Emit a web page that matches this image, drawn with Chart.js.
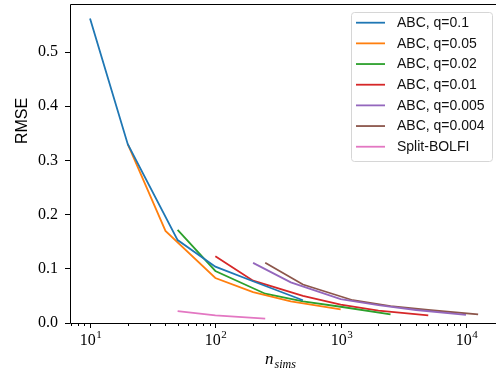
<!DOCTYPE html>
<html>
<head>
<meta charset="utf-8">
<script src="https://cdn.jsdelivr.net/npm/chart.js@4.4.0/dist/chart.umd.min.js"></script>
<style>
  html, body { margin: 0; padding: 0; background: #fff; }
</style>
</head>
<body>
<canvas id="chart" width="496" height="375"></canvas>
<script>
'use strict';

// n_sims and RMSE for each run
const nSimsQ01 = [10, 20, 50, 100, 200, 500];
const rmseQ01 = [0.562, 0.33, 0.153, 0.104, 0.077, 0.042];

const nSimsQ005 = [20, 40, 100, 200, 400, 1000];
const rmseQ005 = [0.33, 0.170, 0.083, 0.057, 0.040, 0.025];

const nSimsQ002 = [50, 100, 250, 500, 1000, 2500];
const rmseQ002 = [0.172, 0.096, 0.054, 0.040, 0.030, 0.016];

const nSimsQ001 = [100, 200, 500, 1000, 2000, 5000];
const rmseQ001 = [0.123, 0.078, 0.050, 0.034, 0.023, 0.014];

const nSimsQ0005 = [200, 400, 1000, 2000, 4000, 10000];
const rmseQ0005 = [0.111, 0.075, 0.044, 0.033, 0.024, 0.015];

const nSimsQ0004 = [250, 500, 1250, 2500, 5000, 12500];
const rmseQ0004 = [0.111, 0.071, 0.042, 0.031, 0.024, 0.016];

const nSimsBolfi = [50, 100, 250];
const rmseBolfi = [0.022, 0.014, 0.008];

const seriesLabels = ['ABC, q=0.1', 'ABC, q=0.05', 'ABC, q=0.02', 'ABC, q=0.01',
  'ABC, q=0.005', 'ABC, q=0.004', 'Split-BOLFI'];
const seriesX = [nSimsQ01, nSimsQ005, nSimsQ002, nSimsQ001, nSimsQ0005, nSimsQ0004, nSimsBolfi];
const seriesY = [rmseQ01, rmseQ005, rmseQ002, rmseQ001, rmseQ0005, rmseQ0004, rmseBolfi];
const yTicks = [0, 0.1, 0.2, 0.3, 0.4, 0.5];

const colors = ['#1f77b4', '#ff7f0e', '#2ca02c', '#d62728', '#9467bd', '#8c564b', '#e377c2'];
const serif = '"Liberation Serif", "DejaVu Serif", serif';
const sans = '"Liberation Sans", Arial, sans-serif';

function toPoints(xs, ys) {
  let pts = [];
  for (let i = 0; i < xs.length; i++) {
    pts.push({x: xs[i], y: ys[i]});
  }
  return pts;
}

let datasets = [];
for (let i = 0; i < seriesLabels.length; i++) {
  datasets.push({
    label: seriesLabels[i],
    data: toPoints(seriesX[i], seriesY[i]),
    borderColor: colors[i],
    backgroundColor: colors[i],
    borderWidth: 1.8,
    pointRadius: 0,
    showLine: true,
    tension: 0
  });
}

// frame, log ticks, axis titles and the boxed legend, matplotlib style
const decorations = {
  id: 'decorations',
  afterDraw(chart) {
    const ctx = chart.ctx;
    const area = chart.chartArea;
    const xScale = chart.scales.x;
    ctx.save();

    ctx.strokeStyle = '#000';
    ctx.lineWidth = 1;
    ctx.beginPath();
    ctx.moveTo(area.right, area.top + 0.5);
    ctx.lineTo(area.left + 0.5, area.top + 0.5);
    ctx.lineTo(area.left + 0.5, area.bottom + 0.5);
    ctx.lineTo(area.right, area.bottom + 0.5);
    ctx.stroke();

    // log ticks on x
    ctx.fillStyle = '#000';
    for (let e = 0; e <= 4; e++) {
      for (let k = 1; k <= 9; k++) {
        const v = k * Math.pow(10, e);
        if (v < xScale.min || v > xScale.max) continue;
        const px = Math.round(xScale.getPixelForValue(v)) + 0.5;
        ctx.beginPath();
        ctx.moveTo(px, area.bottom);
        ctx.lineTo(px, area.bottom + (k === 1 ? 5 : 3));
        ctx.stroke();
        if (k === 1) {
          ctx.font = '16px ' + serif;
          const w1 = ctx.measureText('10').width;
          ctx.font = '11px ' + serif;
          const w2 = ctx.measureText(String(e)).width;
          const start = px - (w1 + w2) / 2;
          ctx.textAlign = 'left';
          ctx.textBaseline = 'alphabetic';
          ctx.font = '16px ' + serif;
          ctx.fillText('10', start, 345);
          ctx.font = '11px ' + serif;
          ctx.fillText(String(e), start + w1 + 0.5, 337.5);
        }
      }
    }

    // x title n_sims
    ctx.font = 'italic 17px ' + serif;
    const wn = ctx.measureText('n').width;
    ctx.font = 'italic 12px ' + serif;
    const ws = ctx.measureText('sims').width;
    const tx = 265;
    ctx.font = 'italic 17px ' + serif;
    ctx.fillText('n', tx, 364);
    ctx.font = 'italic 12px ' + serif;
    ctx.fillText('sims', tx + wn + 1, 367.5);

    // y title
    ctx.save();
    ctx.translate(27, 121);
    ctx.rotate(-Math.PI / 2);
    ctx.font = '16px ' + sans;
    ctx.textAlign = 'center';
    ctx.textBaseline = 'alphabetic';
    ctx.fillText('RMSE', 0, 0);
    ctx.restore();

    // legend
    const bx = 351, by = 12, bw = 141, bh = 149;
    ctx.beginPath();
    ctx.roundRect(bx + 0.5, by + 0.5, bw, bh, 3);
    ctx.fillStyle = 'rgba(255,255,255,0.8)';
    ctx.fill();
    ctx.strokeStyle = '#d6d6d6';
    ctx.stroke();
    ctx.font = '14px ' + sans;
    ctx.textAlign = 'left';
    ctx.textBaseline = 'middle';
    chart.data.datasets.forEach(function(ds, i) {
      const ry = 22.7 + i * 20.67;
      ctx.strokeStyle = ds.borderColor;
      ctx.lineWidth = 1.8;
      ctx.beginPath();
      ctx.moveTo(356, ry);
      ctx.lineTo(385, ry);
      ctx.stroke();
      ctx.fillStyle = '#111';
      ctx.fillText(ds.label, 397, ry + 0.5);
    });

    ctx.restore();
  }
};

const ctx = document.getElementById('chart');
const myChart = new Chart(ctx, {
  type: 'scatter',
  data: {datasets: datasets},
  options: {
    responsive: false,
    animation: false,
    devicePixelRatio: 1,
    layout: {padding: {top: 4, right: 0, left: 0, bottom: 0}},
    plugins: {
      legend: {display: false},
      tooltip: {enabled: false}
    },
    scales: {
      x: {
        type: 'logarithmic',
        min: 6.92,
        max: 17360,
        grid: {display: false},
        border: {display: false},
        ticks: {display: false},
        afterFit: function(scale) {
          scale.height = 52;
          scale.paddingLeft = 0;
          scale.paddingRight = 0;
        }
      },
      y: {
        type: 'linear',
        min: 0,
        max: 0.5886,
        afterBuildTicks: function(scale) {
          scale.ticks = yTicks.map(function(v) { return {value: v}; });
        },
        ticks: {
          includeBounds: false,
          padding: 7,
          color: '#000',
          font: {family: serif, size: 16},
          callback: function(value) { return value.toFixed(1); }
        },
        grid: {
          drawOnChartArea: false,
          drawTicks: true,
          tickLength: 5,
          tickColor: '#000'
        },
        border: {display: false},
        afterFit: function(scale) {
          scale.width = 70;
          scale.paddingTop = 0;
          scale.paddingBottom = 0;
        }
      }
    }
  },
  plugins: [decorations]
});
</script>
</body>
</html>
